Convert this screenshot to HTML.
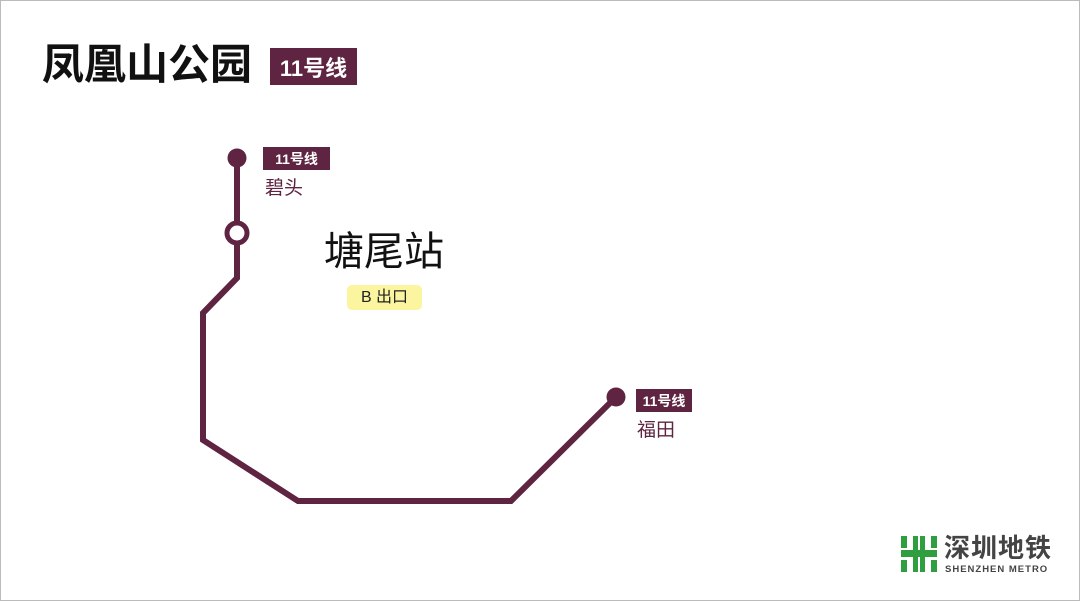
<!DOCTYPE html>
<html><head><meta charset="utf-8"><style>
html,body{margin:0;padding:0}
body{width:1080px;height:601px;position:relative;background:#fff;overflow:hidden;font-family:"Liberation Sans","Noto Sans CJK SC",sans-serif;}
.frame{position:absolute;left:0;top:0;width:1078px;height:599px;border:1px solid #bbb;}
.t{position:absolute;white-space:nowrap;line-height:1}
.badge{position:absolute;background:#5e2441;color:#fff;font-weight:bold;display:flex;align-items:center;justify-content:center}
</style></head><body>
<div class="frame"></div>
<div class="t" style="left:42px;top:44px;font-size:42px;font-weight:bold;color:#111">凤凰山公园</div>
<div class="badge" style="left:270px;top:48px;width:87px;height:37px;font-size:22px">11号线</div>
<svg width="1080" height="601" style="position:absolute;left:0;top:0">
<polyline points="237,158 237,278 203,313 203,440 298,501 511,501 616,397" fill="none" stroke="#5e2441" stroke-width="6" stroke-linejoin="miter"/>
<circle cx="237" cy="158" r="9.5" fill="#5e2441"/>
<circle cx="616" cy="397" r="9.5" fill="#5e2441"/>
<circle cx="237" cy="233" r="10" fill="#fff" stroke="#5e2441" stroke-width="5"/>
</svg>
<div class="badge" style="left:263px;top:147px;width:67px;height:23px;font-size:14px">11号线</div>
<div class="t" style="left:265px;top:179px;font-size:19px;color:#5e2441">碧头</div>
<div class="t" style="left:324px;top:232px;font-size:40px;color:#111">塘尾站</div>
<div class="t" style="left:347px;top:285px;width:75px;height:25px;background:#faf59e;border-radius:5px;font-size:16px;color:#222;display:flex;align-items:center;justify-content:center">B 出口</div>
<div class="badge" style="left:636px;top:389px;width:56px;height:23px;font-size:14px">11号线</div>
<div class="t" style="left:637px;top:421px;font-size:19px;color:#5e2441">福田</div>
<svg width="40" height="40" style="position:absolute;left:899px;top:534px" viewBox="0 0 40 40">
<g fill="#2e9e3e">
<rect x="2" y="2" width="6" height="12"/><rect x="32" y="2" width="6" height="12"/>
<rect x="2" y="26" width="6" height="12"/><rect x="32" y="26" width="6" height="12"/>
<rect x="14" y="2" width="5" height="36"/><rect x="21" y="2" width="5" height="36"/>
<rect x="2" y="16" width="36" height="7"/>
</g></svg>
<div class="t" style="left:944px;top:535px;font-size:26px;font-weight:bold;color:#444;letter-spacing:1px">深圳地铁</div>
<div class="t" style="left:945px;top:565px;font-size:9.5px;font-weight:bold;color:#444;letter-spacing:1px">SHENZHEN METRO</div>
</body></html>
